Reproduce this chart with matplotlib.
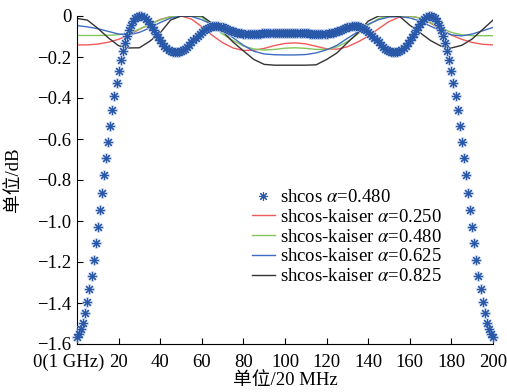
import matplotlib
matplotlib.use("Agg")
import matplotlib.pyplot as plt
import matplotlib.transforms as mtransforms
from matplotlib.lines import Line2D

plt.rcParams.update({
    "font.family": ["Liberation Serif", "Noto Sans CJK SC"],
    "mathtext.fontset": "stix",
    "font.size": 14,
})

# shcos alpha=0.480, one sample per 20 MHz step (0..200)
shcos_x = list(range(201))
shcos_db = [
    -1.564, -1.551, -1.528, -1.496, -1.450, -1.394, -1.333, -1.267, -1.190, -1.109,
    -1.030, -0.946, -0.862, -0.777, -0.692, -0.613, -0.535, -0.459, -0.390, -0.328,
    -0.268, -0.217, -0.172, -0.132, -0.098, -0.068, -0.044, -0.025, -0.011, -0.003,
    0.000, -0.002, -0.007, -0.015, -0.026, -0.039, -0.054, -0.070, -0.086, -0.102,
    -0.117, -0.131, -0.144, -0.155, -0.164, -0.171, -0.175, -0.178, -0.178, -0.177,
    -0.173, -0.167, -0.159, -0.150, -0.140, -0.129, -0.118, -0.107, -0.096, -0.086,
    -0.077, -0.069, -0.062, -0.057, -0.053, -0.050, -0.049, -0.049, -0.050, -0.052,
    -0.055, -0.059, -0.063, -0.067, -0.071, -0.075, -0.078, -0.081, -0.083, -0.085,
    -0.087, -0.088, -0.089, -0.089, -0.089, -0.089, -0.088, -0.087, -0.086, -0.085,
    -0.084, -0.083, -0.082, -0.082, -0.082, -0.082, -0.083, -0.083, -0.084, -0.085,
    -0.085,
    -0.085, -0.084, -0.083, -0.083, -0.082, -0.082, -0.082, -0.082, -0.083, -0.084,
    -0.085, -0.086, -0.087, -0.088, -0.089, -0.089, -0.089, -0.089, -0.088, -0.087,
    -0.085, -0.083, -0.081, -0.078, -0.075, -0.071, -0.067, -0.063, -0.059, -0.055,
    -0.052, -0.050, -0.049, -0.049, -0.050, -0.053, -0.057, -0.062, -0.069, -0.077,
    -0.086, -0.096, -0.107, -0.118, -0.129, -0.140, -0.150, -0.159, -0.167, -0.173,
    -0.177, -0.178, -0.178, -0.175, -0.171, -0.164, -0.155, -0.144, -0.131, -0.117,
    -0.102, -0.086, -0.070, -0.054, -0.039, -0.026, -0.015, -0.007, -0.002, 0.000,
    -0.003, -0.011, -0.025, -0.044, -0.068, -0.098, -0.132, -0.172, -0.217, -0.268,
    -0.328, -0.390, -0.459, -0.535, -0.613, -0.692, -0.777, -0.862, -0.946, -1.030,
    -1.109, -1.190, -1.267, -1.333, -1.394, -1.450, -1.496, -1.528, -1.551, -1.564,
]

# shcos-kaiser curves, read every 5 units
kaiser_x = list(range(0, 201, 5))
kaiser_025 = [
    -0.141, -0.141, -0.137, -0.128, -0.114, -0.092, -0.065, -0.040, -0.017, -0.003,
    0.000, -0.015, -0.052, -0.094, -0.130, -0.156, -0.168, -0.167, -0.158, -0.144,
    -0.134, -0.131, -0.136, -0.148, -0.160, -0.162, -0.150, -0.127, -0.099, -0.062,
    -0.027, -0.005, -0.001, -0.010, -0.035, -0.065, -0.093, -0.114, -0.129, -0.138,
    -0.141,
]
kaiser_048 = [
    -0.095, -0.095, -0.095, -0.094, -0.091, -0.083, -0.064, -0.040, -0.019, -0.004,
    0.000, 0.000, -0.005, -0.046, -0.088, -0.120, -0.146, -0.161, -0.166, -0.163,
    -0.157, -0.155, -0.158, -0.163, -0.163, -0.151, -0.125, -0.088, -0.045, -0.012,
    -0.001, 0.000, 0.000, -0.010, -0.032, -0.058, -0.080, -0.092, -0.096, -0.096,
    -0.096,
]
kaiser_0625 = [
    -0.047, -0.053, -0.062, -0.075, -0.088, -0.092, -0.080, -0.058, -0.032, -0.010,
    -0.001, -0.002, -0.018, -0.042, -0.071, -0.106, -0.143, -0.172, -0.185, -0.189,
    -0.190, -0.190, -0.188, -0.180, -0.165, -0.143, -0.109, -0.077, -0.040, -0.018,
    -0.005, -0.003, -0.009, -0.025, -0.050, -0.072, -0.092, -0.097, -0.088, -0.072,
    -0.056,
]
kaiser_0825 = [
    -0.012, -0.020, -0.060, -0.106, -0.145, -0.156, -0.155, -0.123, -0.082, -0.020,
    0.000, 0.000, 0.000, -0.036, -0.075, -0.127, -0.170, -0.212, -0.236, -0.240,
    -0.240, -0.240, -0.240, -0.238, -0.212, -0.180, -0.130, -0.083, -0.025, 0.000,
    0.000, -0.001, -0.045, -0.082, -0.120, -0.147, -0.156, -0.143, -0.112, -0.066,
    -0.020,
]

W, H, DPI = 507, 392, 100
fig = plt.figure(figsize=(W / DPI, H / DPI), dpi=DPI)
ax = fig.add_axes([77 / W, 1 - 344 / H, (493 - 77) / W, (344 - 16) / H])

star = (8, 2, 0)
ax.plot(shcos_x, shcos_db, linestyle="none", marker=star, ms=7.5, mew=1.8,
        color="#a9bfe6", alpha=0.55, clip_on=False, zorder=3)
ax.plot(shcos_x, shcos_db, linestyle="none", marker=star, ms=6.5, mew=0.8,
        color="#2a58a8", clip_on=False, zorder=4)

ax.plot(kaiser_x, kaiser_025, color="#f05a5a", lw=1.0, zorder=2)
ax.plot(kaiser_x, kaiser_048, color="#82c85a", lw=1.0, zorder=2)
ax.plot(kaiser_x, kaiser_0625, color="#3f6cc4", lw=1.0, zorder=2)
ax.plot(kaiser_x, kaiser_0825, color="#333333", lw=1.0, zorder=2)

ax.set_xlim(0, 200)
ax.set_ylim(-1.6, 0)
ax.set_xticks(range(0, 201, 20))
ax.set_xticklabels(["0(1 GHz)"] + [str(v) for v in range(20, 201, 20)])
ax.set_yticks([0, -0.2, -0.4, -0.6, -0.8, -1.0, -1.2, -1.4, -1.6])
ax.set_yticklabels(["0"] + [f"\u2212{v:.1f}" for v in [0.2, 0.4, 0.6, 0.8, 1.0, 1.2, 1.4, 1.6]])
ax.tick_params(direction="in", length=4, width=0.8, labelsize=13.5)
ax.tick_params(axis="x", pad=7)
ax.tick_params(axis="y", pad=4)
for s in ("top", "right"):
    ax.spines[s].set_visible(False)
for s in ("left", "bottom"):
    ax.spines[s].set_linewidth(0.8)

# the first x label sits a bit left of its tick
first = ax.get_xticklabels()[0]
first.set_transform(first.get_transform() +
                    mtransforms.ScaledTranslation(-8 / DPI, 0, fig.dpi_scale_trans))

ax.set_xlabel("单位/20 MHz", fontsize=13.5, labelpad=1)
ax.set_ylabel("单位/dB", fontsize=13.5, labelpad=11)

handles = [
    Line2D([], [], linestyle="none", marker=star, ms=6.5, mew=0.8, color="#2a58a8"),
    Line2D([], [], color="#f05a5a", lw=1.0),
    Line2D([], [], color="#82c85a", lw=1.0),
    Line2D([], [], color="#3f6cc4", lw=1.0),
    Line2D([], [], color="#333333", lw=1.0),
]
labels = [
    r"shcos $\alpha$=0.480",
    r"shcos-kaiser $\alpha$=0.250",
    r"shcos-kaiser $\alpha$=0.480",
    r"shcos-kaiser $\alpha$=0.625",
    r"shcos-kaiser $\alpha$=0.825",
]
fig.legend(handles, labels, loc="upper left", bbox_to_anchor=(252 / W, 1 - 189 / H),
           frameon=False, fontsize=13.5, borderpad=0, borderaxespad=0,
           handlelength=1.2, handletextpad=0.3, labelspacing=0.14, numpoints=1)

fig.savefig("out.png", dpi=DPI)
